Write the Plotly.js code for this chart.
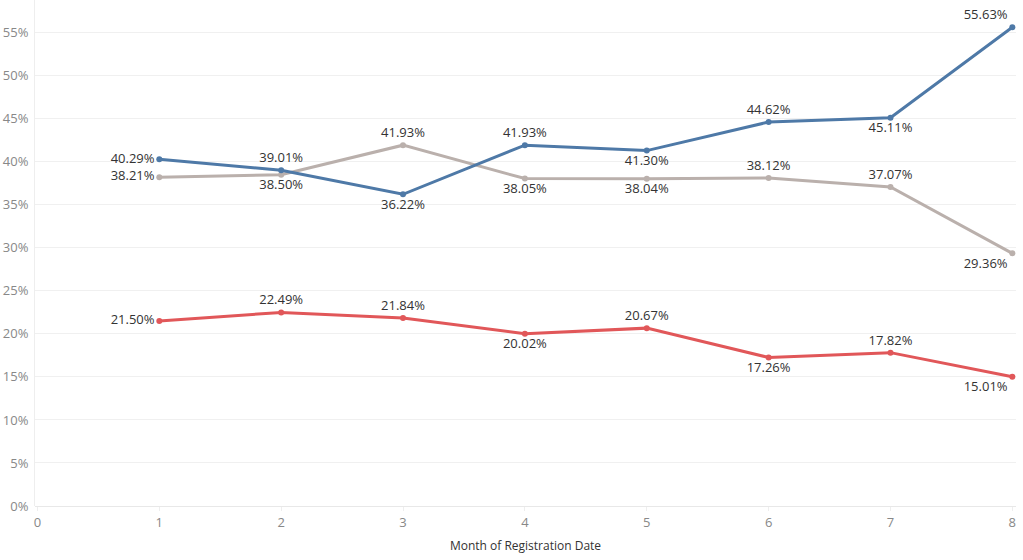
<!DOCTYPE html>
<html>
<head>
<meta charset="utf-8">
<script src="https://cdn.plot.ly/plotly-3.0.1.min.js"></script>
<style>
  html, body { margin: 0; padding: 0; background: #fff; }
  #myDiv { width: 1023px; height: 560px; }
</style>
</head>
<body>
<div id="myDiv"></div>
<script>
let months = [1, 2, 3, 4, 5, 6, 7, 8];

let blueValues = [40.29, 39.01, 36.22, 41.93, 41.30, 44.62, 45.11, 55.63];
let grayValues = [38.21, 38.50, 41.93, 38.05, 38.04, 38.12, 37.07, 29.36];
let redValues = [21.50, 22.49, 21.84, 20.02, 20.67, 17.26, 17.82, 15.01];

let yTicks = [0, 5, 10, 15, 20, 25, 30, 35, 40, 45, 50, 55];
let xTicks = [0, 1, 2, 3, 4, 5, 6, 7, 8];

// where each point label sits
let bluePos = ['middle left', 'top center', 'bottom center', 'top center', 'bottom center', 'top center', 'bottom center', 'top left'];
let grayPos = ['middle left', 'bottom center', 'top center', 'bottom center', 'bottom center', 'top center', 'top center', 'bottom left'];
let redPos = ['middle left', 'top center', 'top center', 'bottom center', 'top center', 'bottom center', 'top center', 'bottom left'];

function makeTrace(values, color, positions) {
  return {
    x: months,
    y: values,
    type: 'scatter',
    mode: 'lines+markers+text',
    line: {color: color, width: 3},
    marker: {color: color, size: 6},
    text: values.map(v => v.toFixed(2) + '%'),
    textposition: positions,
    textfont: {family: 'Open Sans, sans-serif', size: 13, color: '#333'},
    cliponaxis: false,
    hoverinfo: 'x+y'
  };
}

let data = [
  makeTrace(grayValues, '#bab0ac', grayPos),
  makeTrace(redValues, '#e15759', redPos),
  makeTrace(blueValues, '#4e79a7', bluePos)
];

let layout = {
  width: 1023,
  height: 560,
  margin: {l: 35, r: 7, t: 0, b: 54},
  paper_bgcolor: '#fff',
  plot_bgcolor: '#fff',
  showlegend: false,
  font: {family: 'Open Sans, sans-serif'},
  xaxis: {
    range: [-0.02, 8.03],
    tickvals: xTicks,
    ticktext: xTicks.map(String),
    showgrid: false,
    zeroline: false,
    showline: false,
    ticks: 'outside',
    ticklen: 4,
    tickcolor: '#eeeeee',
    tickfont: {size: 13, color: '#888'},
    title: {
      text: 'Month of Registration Date',
      font: {size: 12, color: '#333'},
      standoff: 12
    }
  },
  yaxis: {
    range: [0, 58.8],
    tickvals: yTicks,
    ticktext: yTicks.map(v => v + '%'),
    showgrid: true,
    gridcolor: '#f0f0f0',
    gridwidth: 1,
    zeroline: true,
    zerolinecolor: '#e8e8e8',
    showline: true,
    linecolor: '#eeeeee',
    ticks: '',
    ticklabelstandoff: 3,
    tickfont: {size: 13, color: '#888'}
  }
};

Plotly.newPlot('myDiv', data, layout, {displayModeBar: false, staticPlot: true});
</script>
</body>
</html>
